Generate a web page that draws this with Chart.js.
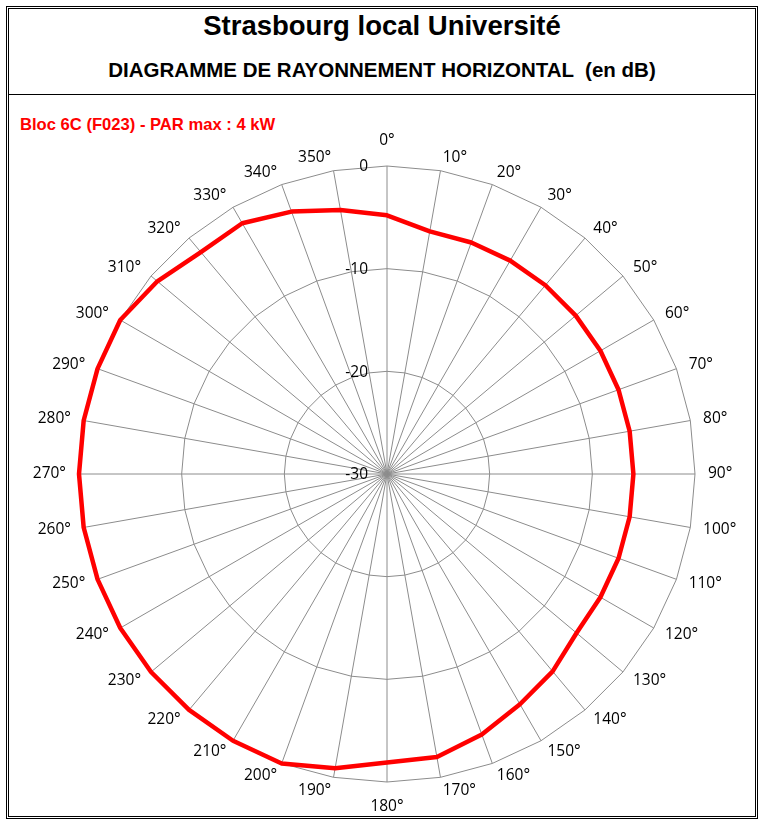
<!DOCTYPE html>
<html>
<head>
<meta charset="utf-8">
<script src="https://cdn.jsdelivr.net/npm/chart.js@4"></script>
<style>
  html, body { margin: 0; padding: 0; background: #fff; }
  body { width: 763px; height: 827px; position: relative; overflow: hidden; }
  .frame-outer { position: absolute; left: 6px; top: 6px; width: 750px; height: 811px; border: 1px solid #000; }
  .frame-inner { position: absolute; left: 8px; top: 8px; width: 746px; height: 807px; border: 1px solid #000; }
  .sep { position: absolute; left: 8px; top: 94px; width: 748px; height: 1px; background: #000; }
  .txt { position: absolute; font-family: "Liberation Sans", Arial, sans-serif; font-weight: bold; line-height: 1; white-space: pre; }
  #title { left: 8px; width: 748px; top: 11.7px; font-size: 27.5px; text-align: center; color: #000; }
  #subtitle { left: 8px; width: 748px; top: 60px; font-size: 20.5px; text-align: center; color: #000; }
  #serie { left: 20px; top: 116.6px; font-size: 16.6px; color: #ff0000; }
  #chart-polar { position: absolute; left: 0; top: 0; }
</style>
</head>
<body>
<div class="frame-outer"></div>
<div class="frame-inner"></div>
<div class="sep"></div>
<div class="txt" id="title">Strasbourg local Université</div>
<div class="txt" id="subtitle">DIAGRAMME DE RAYONNEMENT HORIZONTAL  (en dB)</div>
<div class="txt" id="serie">Bloc 6C (F023) - PAR max : 4 kW</div>
<canvas id="chart-polar" width="763" height="827"></canvas>

<script>
// azimut 0..350 par pas de 10°
const angleLabels = [
  "0°", "10°", "20°", "30°", "40°", "50°", "60°", "70°", "80°",
  "90°", "100°", "110°", "120°", "130°", "140°", "150°", "160°", "170°",
  "180°", "190°", "200°", "210°", "220°", "230°", "240°", "250°", "260°",
  "270°", "280°", "290°", "300°", "310°", "320°", "330°", "340°", "350°",
];

const gainDb = [
  -4.8, -6, -6, -6, -6, -6, -6, -6, -6,
  -6, -6, -6, -6, -5.9, -4.9, -4.1, -3, -2,
  -1.9, -0.9, 0, 0, 0, 0, 0, 0, 0,
  0, 0, 0, 0, -0.8, -1.8, -1.8, -2.8, -3.9,
];

const tickValues = [-30, -20, -10, 0];
const tickLabels = ["-30", "-20", "-10", "0"];

const GRID_COLOR = "#8c8c8c";
const LABEL_FONT = '15.5px "Open Sans", "Liberation Sans", sans-serif';

// libellés des angles et de l'échelle, dessinés à la manière d'Excel
const polarLabelsPlugin = {
  id: "polarLabels",
  afterDraw(chart) {
    const r = chart.scales.r;
    const ctx = chart.ctx;
    ctx.save();
    ctx.fillStyle = "#000";
    ctx.font = LABEL_FONT;

    angleLabels.forEach((text, i) => {
      const deg = i * 10;
      const p = r.getPointPosition(i, r.drawingArea + 13);
      ctx.textBaseline = "middle";
      if (deg === 0) {
        ctx.textAlign = "center";
        ctx.fillText(text, p.x, p.y - 12);
      } else if (deg === 180) {
        ctx.textAlign = "center";
        ctx.fillText(text, p.x, p.y + 12);
      } else {
        ctx.textAlign = deg < 180 ? "left" : "right";
        ctx.fillText(text, p.x, p.y);
      }
    });

    ctx.textAlign = "right";
    ctx.textBaseline = "middle";
    tickValues.forEach((v, i) => {
      const y = r.yCenter - r.getDistanceFromCenterForValue(v);
      ctx.fillText(tickLabels[i], r.xCenter - 19, y + 1);
    });
    ctx.restore();
  },
};

const canvas = document.getElementById("chart-polar");
new Chart(canvas.getContext("2d"), {
  type: "radar",
  data: {
    labels: angleLabels,
    datasets: [
      {
        label: "Bloc 6C (F023)",
        data: gainDb,
        borderColor: "#ff0000",
        borderWidth: 4.5,
        borderJoinStyle: "round",
        fill: false,
        pointRadius: 0,
        pointHoverRadius: 0,
        tension: 0,
      },
    ],
  },
  plugins: [polarLabelsPlugin],
  options: {
    responsive: false,
    animation: false,
    layout: { padding: { left: 79, right: 68, top: 166, bottom: 45 } },
    plugins: {
      legend: { display: false },
      tooltip: { enabled: false },
    },
    scales: {
      r: {
        min: -30,
        max: 0,
        startAngle: 0,
        ticks: { display: false, stepSize: 10 },
        pointLabels: { display: false },
        grid: { color: GRID_COLOR, lineWidth: 1, circular: false },
        angleLines: { color: GRID_COLOR, lineWidth: 1 },
      },
    },
  },
});
</script>
</body>
</html>
